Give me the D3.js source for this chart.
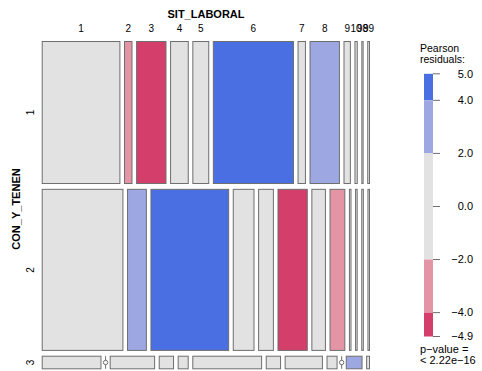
<!DOCTYPE html>
<html>
<head>
<meta charset="utf-8">
<script src="https://cdn.jsdelivr.net/npm/d3@7"></script>
<style>
  body { margin: 0; background: #fff; }
  text { font-family: "Liberation Sans", Arial, sans-serif; fill: #000; }
</style>
</head>
<body>
<svg id="chart" width="482" height="371"></svg>
<script>
// categories
const sitLevels = ['1', '2', '3', '4', '5', '6', '7', '8', '9', '10', '98', '99'];
const conLevels = ['1', '2', '3'];

// counts per CON_Y_TENEN row, by SIT_LABORAL
const countsRow1 = [611, 59, 231, 139, 125, 630, 58, 231, 50, 18, 10, 14];
const countsRow2 = [720, 168, 693, 185, 132, 261, 121, 132, 14, 14, 14, 14];
const countsRow3 = [41, 0, 31, 10, 7, 48, 10, 26, 7, 0, 11, 2];

// pearson residuals (estimated from the shading)
const residRow1 = [-0.4, -2.9, -4.9, -1.0, 0.5, 5.0, -1.4, 2.6, 1.5, 0.8, 0.2, -0.5];
const residRow2 = [0.3, 2.7, 4.6, 0.9, -0.4, -4.7, 1.2, -2.5, -1.6, -0.9, -1.5, -0.6];
const residRow3 = [0.2, -1.8, 0.4, 0.3, 0.1, -0.2, 0.6, 0.5, 1.1, -0.8, 3.1, 1.2];

// legend
const legendTicks = [5.0, 4.0, 2.0, 0.0, -2.0, -4.0, -4.9];
const legendBins = [[4, 5.0], [2, 4], [-2, 2], [-4, -2], [-4.9, -4]];
const pValueText = ['p\u2212value =', '< 2.22e\u221216'];

const counts = [countsRow1, countsRow2, countsRow3];
const resids = [residRow1, residRow2, residRow3];

const svg = d3.select('#chart');

const x0 = 42.2, x1 = 369.5, y0 = 41.5, y1 = 368.8;
const rowGap = 5.8, colGap = 4.6;
const lineCol = '#6e6e6e';

function shade(r) {
  const a = Math.abs(r);
  if (a <= 2) return '#E2E2E2';
  if (r > 0) return a > 4 ? '#4A6FE3' : '#9DA8E2';
  return a > 4 ? '#D33F6A' : '#E495A5';
}

const rowTotals = counts.map(d => d3.sum(d));
const total = d3.sum(rowTotals);
const yScale = d3.scaleLinear()
  .domain([0, total])
  .range([0, (y1 - y0) - rowGap * (conLevels.length - 1)]);

const cells = [];
const rowsInfo = [];
let cumRow = 0;
counts.forEach(function(row, i) {
  const top = y0 + yScale(cumRow) + i * rowGap;
  const h = yScale(rowTotals[i]);
  cumRow += rowTotals[i];
  rowsInfo.push({ label: conLevels[i], top: top, h: h });
  const xScale = d3.scaleLinear()
    .domain([0, rowTotals[i]])
    .range([0, (x1 - x0) - colGap * (sitLevels.length - 1)]);
  let cum = 0;
  row.forEach(function(v, j) {
    const left = x0 + xScale(cum) + j * colGap;
    cells.push({ i: i, j: j, x: left, y: top, w: xScale(v), h: h, n: v, r: resids[i][j] });
    cum += v;
  });
});

// tiles
svg.append('g')
  .selectAll('rect')
  .data(cells.filter(d => d.n > 0))
  .enter()
  .append('rect')
  .attr('x', d => d.x)
  .attr('y', d => d.y)
  .attr('width', d => d.w)
  .attr('height', d => d.h)
  .attr('fill', d => shade(d.r))
  .attr('stroke', lineCol)
  .attr('stroke-width', 1);

// zero cells
const zeros = svg.append('g')
  .selectAll('g')
  .data(cells.filter(d => d.n === 0))
  .enter()
  .append('g');
zeros.append('line')
  .attr('x1', d => d.x).attr('x2', d => d.x)
  .attr('y1', d => d.y).attr('y2', d => d.y + d.h)
  .attr('stroke', lineCol);
zeros.append('circle')
  .attr('cx', d => d.x)
  .attr('cy', d => d.y + d.h / 2)
  .attr('r', 2.2)
  .attr('fill', '#fff')
  .attr('stroke', lineCol);

// top labels (first row positions)
svg.append('text')
  .attr('x', 206)
  .attr('y', 18)
  .attr('text-anchor', 'middle')
  .style('font-size', '11px')
  .style('font-weight', 'bold')
  .text('SIT_LABORAL');

svg.append('g')
  .selectAll('text')
  .data(cells.filter(d => d.i === 0))
  .enter()
  .append('text')
  .attr('x', d => d.x + d.w / 2)
  .attr('y', 31.5)
  .attr('text-anchor', 'middle')
  .style('font-size', '10px')
  .text(d => sitLevels[d.j]);

// left labels
svg.append('text')
  .attr('transform', 'translate(19.5,209)rotate(-90)')
  .attr('text-anchor', 'middle')
  .style('font-size', '11px')
  .style('font-weight', 'bold')
  .text('CON_Y_TENEN');

svg.append('g')
  .selectAll('text')
  .data(rowsInfo)
  .enter()
  .append('text')
  .attr('transform', d => 'translate(34,' + (d.top + d.h / 2) + ')rotate(-90)')
  .attr('text-anchor', 'middle')
  .style('font-size', '10px')
  .text(d => d.label);

// legend
const ly = d3.scaleLinear().domain([-4.9, 5.0]).range([336.5, 73.8]);
const leg = svg.append('g');
leg.selectAll('rect')
  .data(legendBins)
  .enter()
  .append('rect')
  .attr('x', 424)
  .attr('width', 9)
  .attr('y', d => ly(d[1]))
  .attr('height', d => ly(d[0]) - ly(d[1]))
  .attr('fill', d => shade((d[0] + d[1]) / 2));

leg.selectAll('line')
  .data(legendTicks)
  .enter()
  .append('line')
  .attr('x1', 433).attr('x2', 440)
  .attr('y1', d => ly(d)).attr('y2', d => ly(d))
  .attr('stroke', lineCol);

leg.selectAll('text.tick')
  .data(legendTicks)
  .enter()
  .append('text')
  .attr('class', 'tick')
  .attr('x', 473)
  .attr('y', d => ly(d) + 3.8)
  .attr('text-anchor', 'end')
  .style('font-size', '11px')
  .text(d => (d < 0 ? '\u2212' : '') + d3.format('.1f')(Math.abs(d)));

leg.append('text')
  .attr('x', 420).attr('y', 52)
  .style('font-size', '10.5px')
  .text('Pearson');
leg.append('text')
  .attr('x', 420).attr('y', 63)
  .style('font-size', '10.5px')
  .text('residuals:');

leg.selectAll('text.pv')
  .data(pValueText)
  .enter()
  .append('text')
  .attr('class', 'pv')
  .attr('x', 420)
  .attr('y', (d, i) => 353 + i * 11)
  .style('font-size', '11px')
  .text(d => d);
</script>
</body>
</html>
